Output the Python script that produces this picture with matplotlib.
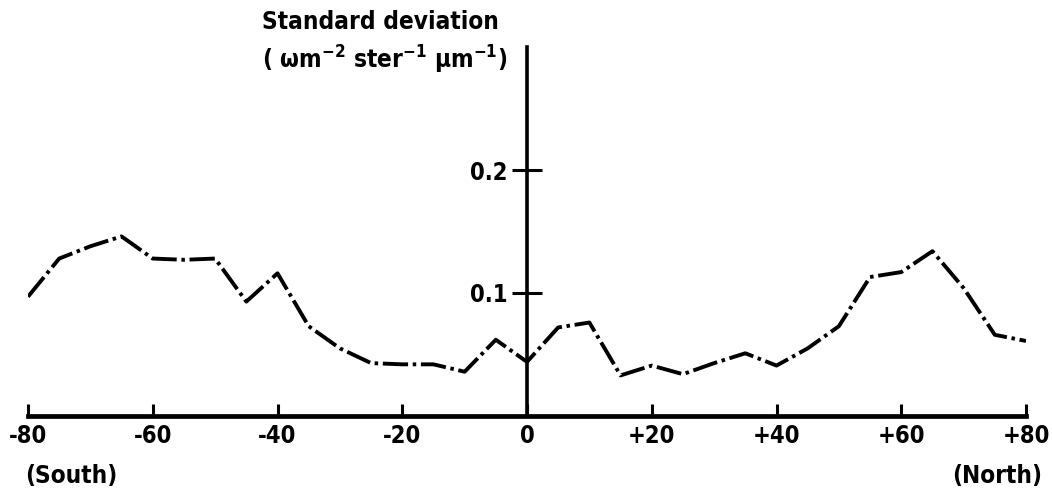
import numpy as np
import matplotlib
matplotlib.use('Agg')
import matplotlib.pyplot as plt

# latitude (deg) and standard deviation
latitude = [-80, -75, -70, -65, -60, -55, -50, -45, -40, -35, -30, -25, -20,
            -15, -10, -5, 0, 5, 10, 15, 20, 25, 30, 35, 40, 45, 50, 55, 60,
            65, 70, 75, 80]
std_dev = [0.097, 0.128, 0.138, 0.146, 0.128, 0.127, 0.128, 0.093, 0.116,
           0.073, 0.055, 0.043, 0.042, 0.042, 0.036, 0.062, 0.044, 0.072,
           0.076, 0.033, 0.041, 0.034, 0.043, 0.051, 0.041, 0.055, 0.073,
           0.113, 0.117, 0.134, 0.104, 0.066, 0.061]

x_ticks = [-80, -60, -40, -20, 0, 20, 40, 60, 80]
x_labels = ['-80', '-60', '-40', '-20', '0', '+20', '+40', '+60', '+80']
y_ticks = [0.1, 0.2]
y_labels = ['0.1', '0.2']

plt.rcParams['font.family'] = ['DejaVu Sans']
plt.rcParams['font.stretch'] = 'condensed'
plt.rcParams['font.weight'] = 'bold'
plt.rcParams['mathtext.default'] = 'bf'

fig = plt.figure(figsize=(10.52, 4.94), dpi=100)
ax = fig.add_axes([28 / 1052, 78 / 494, 998 / 1052, 369 / 494])

ax.plot(latitude, std_dev, color='black', lw=2.8,
        linestyle=(0, (6.5, 1.2, 0.9, 1.2)), dash_capstyle='butt',
        solid_joinstyle='miter')

ax.set_xlim(-80, 80)
ax.set_ylim(0, 0.3)

for s in ['top', 'right']:
    ax.spines[s].set_visible(False)
ax.spines['left'].set_position(('data', 0))
ax.spines['left'].set_linewidth(2.6)
ax.spines['bottom'].set_linewidth(3.4)

ax.set_xticks(x_ticks)
ax.set_xticklabels(x_labels, fontsize=17, fontweight='bold')
ax.set_yticks(y_ticks)
ax.set_yticklabels(y_labels, fontsize=17, fontweight='bold')
ax.tick_params(axis='x', direction='in', length=9, width=2.2, pad=6)
ax.tick_params(axis='y', direction='inout', length=22, width=2.2, pad=3)

fig.text(25 / 1052, 1 - 476 / 494, '(South)', fontsize=17.5, fontweight='bold',
         ha='left', va='center')
fig.text(1042 / 1052, 1 - 476 / 494, '(North)', fontsize=17.5, fontweight='bold',
         ha='right', va='center')

fig.text(262 / 1052, 1 - 22 / 494, 'Standard deviation', fontsize=17.5,
         fontweight='bold', ha='left', va='center')
fig.text(262 / 1052, 1 - 60 / 494,
         '( \u03c9m$^{-2}$ ster$^{-1}$ \u03bcm$^{-1}$)', fontsize=17.5,
         fontweight='bold', ha='left', va='center')

fig.savefig('out.png', dpi=100, facecolor='white')
